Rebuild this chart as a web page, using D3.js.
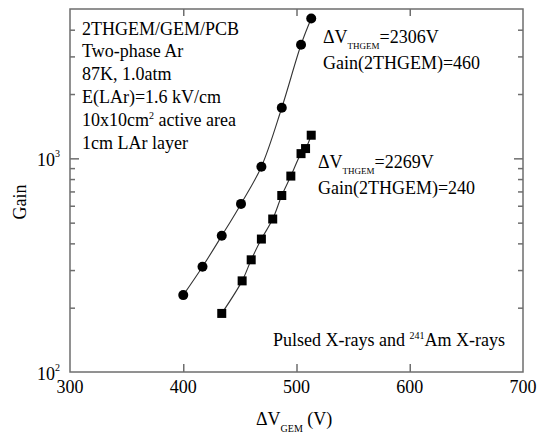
<!DOCTYPE html>
<html lang="en">
<head>
<meta charset="UTF-8">
<title>Gain vs dV GEM</title>
<style>
    body { margin: 0; background: #fff; }
    svg { display: block; }
    text { font-family: "Liberation Serif", "Times New Roman", serif; fill: #000; }
    .axis path, .axis line { stroke: #6e6e6e; stroke-width: 1.5px; }
    .frame { fill: none; stroke: #6e6e6e; stroke-width: 1.5px; }
    .fit { fill: none; stroke: #333; stroke-width: 1.1px; }
</style>
</head>
<body>
<script src="https://d3js.org/d3.v7.min.js"></script>
<script>
    // data
    const circleV    = [400, 417, 434, 451, 469, 487, 504, 513];
    const circleGain = [229, 311, 434, 612, 914, 1725, 3400, 4510];
    const squareV    = [434, 452, 460, 469, 479, 487, 495, 504, 508, 513];
    const squareGain = [188, 267, 335, 419, 520, 670, 826, 1052, 1111, 1283];

    const xTicks = [300, 400, 500, 600, 700];
    const yMajor = [100, 1000];
    const yMinor = [200, 300, 400, 500, 600, 700, 800, 900, 2000, 3000, 4000];

    const infoLines = ["2THGEM/GEM/PCB", "Two-phase Ar", "87K, 1.0atm",
                       "E(LAr)=1.6 kV/cm", "10x10cm|2| active area", "1cm LAr layer"];

    const W = 537, H = 434;
    const box = {left: 70, top: 9, right: 523, bottom: 372};
    const fs = "18px";

    const svg = d3.select("body").append("svg")
        .attr("width", W)
        .attr("height", H);

    const x = d3.scaleLinear().domain([300, 700]).range([box.left, box.right]);
    const y = d3.scaleLog().domain([100, 5000]).range([box.bottom, box.top]);

    // frame
    svg.append("rect")
        .attr("class", "frame")
        .attr("x", box.left).attr("y", box.top)
        .attr("width", box.right - box.left)
        .attr("height", box.bottom - box.top);

    // x ticks (bottom + top, inward)
    const inner = xTicks.slice(1, -1);
    svg.append("g").attr("class", "axis")
        .attr("transform", `translate(0,${box.bottom})`)
        .call(d3.axisBottom(x).tickValues(inner).tickSize(-8).tickFormat(""))
        .call(g => g.select(".domain").remove());
    svg.append("g").attr("class", "axis")
        .attr("transform", `translate(0,${box.top})`)
        .call(d3.axisTop(x).tickValues(inner).tickSize(-7).tickFormat(""))
        .call(g => g.select(".domain").remove());

    svg.selectAll("text.xlab")
        .data(xTicks)
        .join("text")
        .attr("class", "xlab")
        .attr("x", d => x(d))
        .attr("y", 393)
        .attr("text-anchor", "middle")
        .style("font-size", fs)
        .text(d => d);

    // y ticks (left + right, inward)
    [[box.left, d3.axisLeft], [box.right, d3.axisRight]].forEach(([px, ax]) => {
        svg.append("g").attr("class", "axis")
            .attr("transform", `translate(${px},0)`)
            .call(ax(y).tickValues([1000]).tickSize(-9).tickFormat(""))
            .call(g => g.select(".domain").remove());
        svg.append("g").attr("class", "axis")
            .attr("transform", `translate(${px},0)`)
            .call(ax(y).tickValues(yMinor).tickSize(-5).tickFormat(""))
            .call(g => g.select(".domain").remove());
    });

    // y labels 10^n
    yMajor.forEach(v => {
        const t = svg.append("text")
            .attr("x", 37)
            .attr("y", y(v) + 8)
            .style("font-size", fs);
        t.append("tspan").text("10");
        t.append("tspan").attr("dy", -9).style("font-size", "10px").text(Math.round(Math.log10(v)));
    });

    // axis titles
    svg.append("text")
        .attr("transform", `translate(26,202) rotate(-90)`)
        .attr("text-anchor", "middle")
        .style("font-size", fs)
        .text("Gain");

    const xt = svg.append("text")
        .attr("x", 256)
        .attr("y", 425)
        .style("font-size", fs);
    xt.append("tspan").text("\u0394V");
    xt.append("tspan").attr("dy", 7).style("font-size", "10px").text("GEM");
    xt.append("tspan").attr("dy", -7).text(" (V)");

    // fitted curves
    const line = d3.line()
        .x(d => x(d[0]))
        .y(d => y(d[1]))
        .curve(d3.curveCatmullRom.alpha(0.5));

    const circles = circleV.map((v, i) => [v, circleGain[i]]);
    const squares = squareV.map((v, i) => [v, squareGain[i]]);

    svg.append("path").attr("class", "fit").attr("d", line(circles));
    svg.append("path").attr("class", "fit").attr("d", line(squares));

    svg.selectAll("circle.pt")
        .data(circles)
        .join("circle")
        .attr("class", "pt")
        .attr("cx", d => x(d[0]))
        .attr("cy", d => y(d[1]))
        .attr("r", 5)
        .attr("fill", "#000");

    const s = 9;
    svg.selectAll("rect.pt")
        .data(squares)
        .join("rect")
        .attr("class", "pt")
        .attr("x", d => x(d[0]) - s / 2)
        .attr("y", d => y(d[1]) - s / 2)
        .attr("width", s)
        .attr("height", s)
        .attr("fill", "#000");

    // info block, |..| marks a superscript
    infoLines.forEach((ln, i) => {
        const t = svg.append("text")
            .attr("x", 82)
            .attr("y", 34.5 + i * 22.8)
            .style("font-size", fs);
        ln.split("|").forEach((part, j) => {
            if (j % 2 === 1) {
                t.append("tspan").attr("dy", -7).style("font-size", "10px").text(part);
            } else {
                const sp = t.append("tspan").text(part);
                if (j > 0) sp.attr("dy", 7);
            }
        });
    });

    // annotations
    function dvLabel(px, py, val, gain) {
        const t = svg.append("text").attr("x", px).attr("y", py).style("font-size", fs);
        t.append("tspan").text("\u0394V");
        t.append("tspan").attr("dy", 6).style("font-size", "9px").text("THGEM");
        t.append("tspan").attr("dy", -6).text("=" + val + "V");
        svg.append("text").attr("x", px).attr("y", py + 26)
            .style("font-size", fs)
            .text("Gain(2THGEM)=" + gain);
    }
    dvLabel(323, 43, 2306, 460);
    dvLabel(318, 168, 2269, 240);

    const pt = svg.append("text").attr("x", 273).attr("y", 346).style("font-size", fs);
    pt.append("tspan").text("Pulsed X-rays and ");
    pt.append("tspan").attr("dy", -7).style("font-size", "10px").text("241");
    pt.append("tspan").attr("dy", 7).text("Am X-rays");
</script>
</body>
</html>
